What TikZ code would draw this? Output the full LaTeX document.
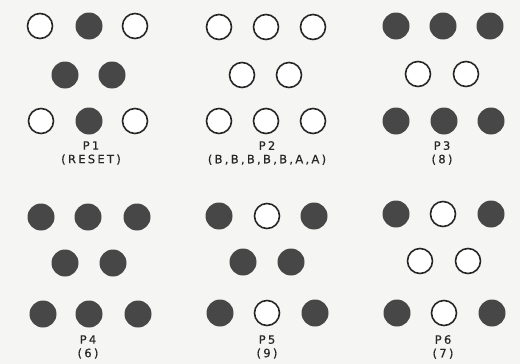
\documentclass[tikz,border=0pt]{standalone}
\usepackage{fontspec}
\setmainfont{DejaVu Sans}[LetterSpace=20,FakeBold=0.6]
\definecolor{paper}{HTML}{F5F5F3}
\definecolor{ink}{HTML}{474747}
\definecolor{txt}{HTML}{262626}
\begin{document}
\begin{tikzpicture}[x=1pt,y=-1pt,
  on/.style={circle,inner sep=0pt,minimum size=27pt,fill=ink},
  off/.style={circle,inner sep=0pt,minimum size=25pt,draw=black!85,line width=1.6pt,fill=white},
  lab/.style={align=center,text=txt,font=\fontsize{11.5}{13.5}\selectfont,inner sep=0pt}]
\fill[paper] (0,0) rectangle (520,364);
\useasboundingbox (0,0) rectangle (520,364);
% P1
\node[off] (a1) at (40,26) {}; \node[on] (a2) at (89,26) {}; \node[off] (a3) at (135,26) {};
\node[on] (a4) at (65,75) {}; \node[on] (a5) at (112,75) {};
\node[off] (a6) at (41,121) {}; \node[on] (a7) at (89,121) {}; \node[off] (a8) at (135,121) {};
\node[lab] (la) at (91,153) {P1\\(RESET)};
% P2
\node[off] (b1) at (219,27) {}; \node[off] (b2) at (266,27) {}; \node[off] (b3) at (313,27) {};
\node[off] (b4) at (242,75) {}; \node[off] (b5) at (289,75) {};
\node[off] (b6) at (219,121) {}; \node[off] (b7) at (266,121) {}; \node[off] (b8) at (313,121) {};
\node[lab] (lb) at (267,153) {P2\\(B,B,B,B,B,A,A)};
% P3
\node[on] (c1) at (396,26) {}; \node[on] (c2) at (443,26) {}; \node[on] (c3) at (490,26) {};
\node[off] (c4) at (418,74) {}; \node[off] (c5) at (466,74) {};
\node[on] (c6) at (396,121) {}; \node[on] (c7) at (444,121) {}; \node[on] (c8) at (491,121) {};
\node[lab] (lc) at (442,153) {P3\\(8)};
% P4
\node[on] (d1) at (41,217) {}; \node[on] (d2) at (88,217) {}; \node[on] (d3) at (137,217) {};
\node[on] (d4) at (65,263) {}; \node[on] (d5) at (113,263) {};
\node[on] (d6) at (43,314) {}; \node[on] (d7) at (89,314) {}; \node[on] (d8) at (138,314) {};
\node[lab] (ld) at (88,347) {P4\\(6)};
% P5
\node[on] (e1) at (219,216) {}; \node[off] (e2) at (267,216) {}; \node[on] (e3) at (314,216) {};
\node[on] (e4) at (243,262) {}; \node[on] (e5) at (291,262) {};
\node[on] (e6) at (220,313) {}; \node[off] (e7) at (267,313) {}; \node[on] (e8) at (315,313) {};
\node[lab] (le) at (267,347) {P5\\(9)};
% P6
\node[on] (f1) at (396,214) {}; \node[off] (f2) at (443,214) {}; \node[on] (f3) at (491,214) {};
\node[off] (f4) at (420,261) {}; \node[off] (f5) at (468,261) {};
\node[on] (f6) at (397,313) {}; \node[off] (f7) at (444,313) {}; \node[on] (f8) at (492,313) {};
\node[lab] (lf) at (443,347) {P6\\(7)};
\end{tikzpicture}
\end{document}
